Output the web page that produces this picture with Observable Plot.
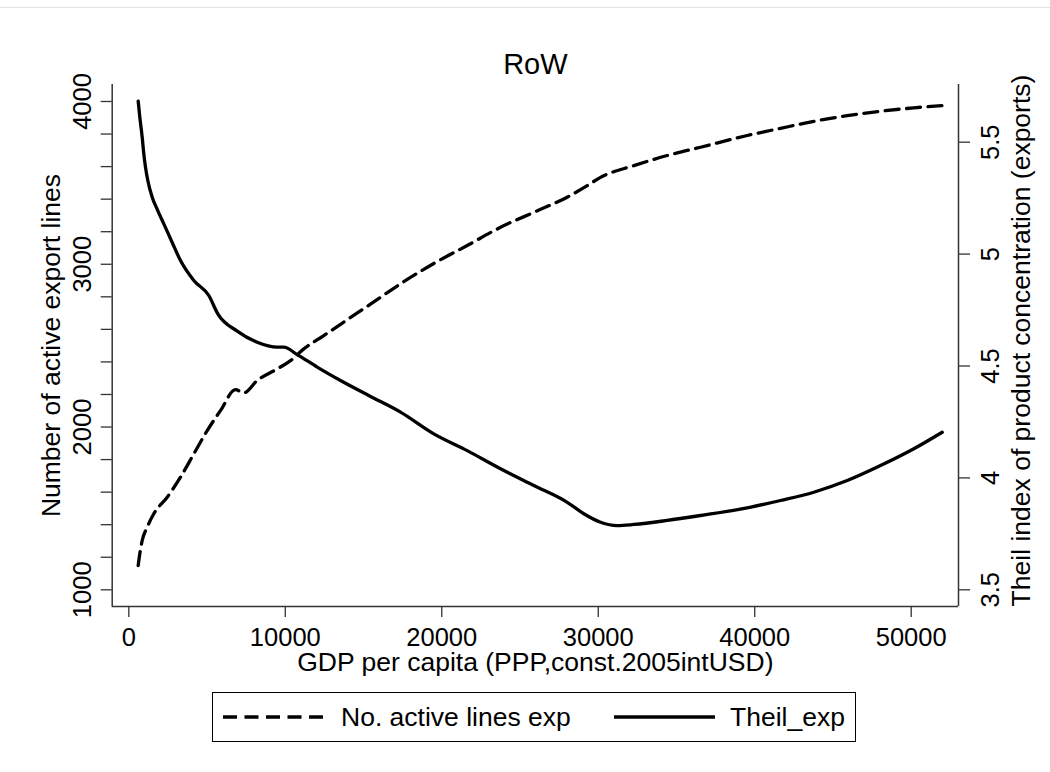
<!DOCTYPE html>
<html>
<head>
<meta charset="utf-8">
<script src="https://cdn.jsdelivr.net/npm/d3@7"></script>
<script src="https://cdn.jsdelivr.net/npm/@observablehq/plot@0.6"></script>
<style>
  html, body { margin: 0; padding: 0; background: #fff; }
  #wrap { position: relative; width: 1050px; height: 772px; background: #fff;
          font-family: "Liberation Sans", Arial, sans-serif; overflow: hidden; }
  #topline { position: absolute; left: 0; top: 7px; width: 1050px; height: 0; border-top: 1px solid #e4e4e4; }
  #chart { position: absolute; left: 0; top: 0; }
  #legend { position: absolute; left: 212px; top: 692px; width: 644px; height: 50px;
            box-sizing: border-box; border: 1.3px solid #000; background: #fff; }
  .lg-sample { position: absolute; top: 0; height: 48px; }
  .lg-text { position: absolute; top: 0; height: 48px; line-height: 48px; font-size: 26.5px; color: #000; white-space: nowrap; }
</style>
</head>
<body>
<div id="wrap">
  <div id="topline"></div>
  <div id="chart"></div>
  <div id="legend"></div>
</div>
<script>
// ---- data ----
const gdpLines = [600, 703, 856, 1176, 1598, 2454, 3304, 4154, 5010, 5860, 6819, 7349, 8205, 9484, 10334, 11184, 12462, 13740, 15446, 17363, 19492, 21626, 23754, 25882, 28017, 29295, 30145, 32273, 34407, 36535, 39519, 41648, 43776, 45910, 48038, 50166, 51981];
const activeLines = [1149, 1221, 1303, 1385, 1467, 1569, 1692, 1835, 1978, 2101, 2230, 2210, 2286, 2357, 2408, 2480, 2562, 2645, 2755, 2880, 3005, 3115, 3227, 3319, 3412, 3483, 3534, 3606, 3668, 3719, 3791, 3835, 3878, 3913, 3940, 3961, 3975];

const gdpTheil = [600, 703, 856, 959, 1067, 1214, 1495, 1815, 2237, 2774, 3304, 4154, 5113, 5688, 6927, 8205, 9484, 9905, 10762, 12040, 13529, 15446, 17363, 19492, 21626, 23754, 25882, 28017, 29078, 30145, 31212, 32273, 34407, 36535, 39519, 41648, 43776, 45910, 48038, 50166, 51981];
const theilValues = [5.683, 5.612, 5.522, 5.448, 5.388, 5.329, 5.254, 5.200, 5.135, 5.052, 4.971, 4.882, 4.815, 4.733, 4.656, 4.606, 4.584, 4.584, 4.551, 4.495, 4.435, 4.364, 4.294, 4.197, 4.122, 4.041, 3.966, 3.891, 3.840, 3.802, 3.787, 3.792, 3.810, 3.832, 3.866, 3.899, 3.936, 3.988, 4.055, 4.130, 4.204];

const xTicks = [0, 10000, 20000, 30000, 40000, 50000];
const leftTicks = d3.range(1000, 4001, 200);
const rightTicks = [3.5, 4, 4.5, 5, 5.5];

const titleText = "RoW";
const xTitle = "GDP per capita (PPP,const.2005intUSD)";
const leftTitle = "Number of active export lines";
const rightTitle = "Theil index of product concentration (exports)";
const seriesNames = ["No. active lines exp", "Theil_exp"];

// ---- scales / layout ----
const xDomain = [-1061, 53022];
const leftDomain = [897.4, 4104.4];
const rightDomain = [3.4254, 5.7578];
const toLeft = d3.scaleLinear().domain(rightDomain).range(leftDomain);

const linesData = gdpLines.map((g, i) => ({gdp: g, v: activeLines[i]}));
const theilData = gdpTheil.map((g, i) => ({gdp: g, v: theilValues[i]}));

const axisColor = "#333";
const dash = "14,7.5";
const lw = 3.3;

const chart = Plot.plot({
  width: 1050,
  height: 772,
  marginLeft: 111.7,
  marginRight: 92,
  marginTop: 84,
  marginBottom: 166,
  style: {fontFamily: "'Liberation Sans', Arial, sans-serif", fontSize: "25.5px", background: "transparent", color: "#000", overflow: "visible"},
  x: {domain: xDomain, label: null},
  y: {domain: leftDomain, label: null},
  marks: [
    Plot.ruleX([xDomain[0], xDomain[1]], {stroke: axisColor, strokeWidth: 1.5}),
    Plot.ruleY([leftDomain[0]], {stroke: axisColor, strokeWidth: 1.5}),
    Plot.axisX(xTicks, {anchor: "bottom", tickSize: 11, tickPadding: 10.5, fontSize: 25.5, stroke: axisColor, strokeWidth: 1.3,
      tickFormat: d => String(d), label: null}),
    Plot.axisY(leftTicks, {anchor: "left", tickSize: 11, tickRotate: -90, tickPadding: 10.7, lineAnchor: "bottom", fontSize: 25.5, stroke: axisColor, strokeWidth: 1.3,
      tickFormat: d => d % 1000 === 0 ? String(d) : "", label: null}),
    Plot.axisY(rightTicks.map(toLeft), {anchor: "right", tickSize: 11, tickRotate: -90, tickPadding: 11, lineAnchor: "top", fontSize: 25.5, stroke: axisColor, strokeWidth: 1.3,
      tickFormat: d => String(+toLeft.invert(d).toFixed(2)), label: null}),
    Plot.line(linesData, {x: "gdp", y: "v", stroke: "#000", strokeWidth: lw, strokeDasharray: dash, curve: "monotone-x"}),
    Plot.line(theilData, {x: "gdp", y: d => toLeft(d.v), stroke: "#000", strokeWidth: lw, curve: "monotone-x"}),
    Plot.text([titleText], {frameAnchor: "top", dy: -11, lineAnchor: "bottom", textAnchor: "middle", fontSize: 29, fill: "#000"}),
    Plot.text([xTitle], {frameAnchor: "bottom", dy: 64.5, lineAnchor: "bottom", textAnchor: "middle", fontSize: 26.5, fill: "#000"}),
    Plot.text([leftTitle], {frameAnchor: "left", dx: -51.7, rotate: -90, lineAnchor: "bottom", textAnchor: "middle", fontSize: 26.5, fill: "#000"}),
    Plot.text([rightTitle], {frameAnchor: "right", dx: 71, dy: -5, rotate: -90, lineAnchor: "bottom", textAnchor: "middle", fontSize: 26.5, fill: "#000"})
  ]
});
document.getElementById("chart").appendChild(chart);

// ---- legend ----
const legend = document.getElementById("legend");
function sample(left, width, dashed) {
  const s = d3.create("svg").attr("class", "lg-sample").attr("width", width).attr("height", 48)
    .style("left", left + "px");
  s.append("line").attr("x1", 0).attr("x2", width).attr("y1", 24).attr("y2", 24)
    .attr("stroke", "#000").attr("stroke-width", lw)
    .attr("stroke-dasharray", dashed ? dash : null);
  legend.appendChild(s.node());
}
function label(left, text) {
  const d = document.createElement("div");
  d.className = "lg-text";
  d.style.left = left + "px";
  d.textContent = text;
  legend.appendChild(d);
}
sample(10, 102, true);
label(128, seriesNames[0]);
sample(401, 101, false);
label(517, seriesNames[1]);
</script>
</body>
</html>
